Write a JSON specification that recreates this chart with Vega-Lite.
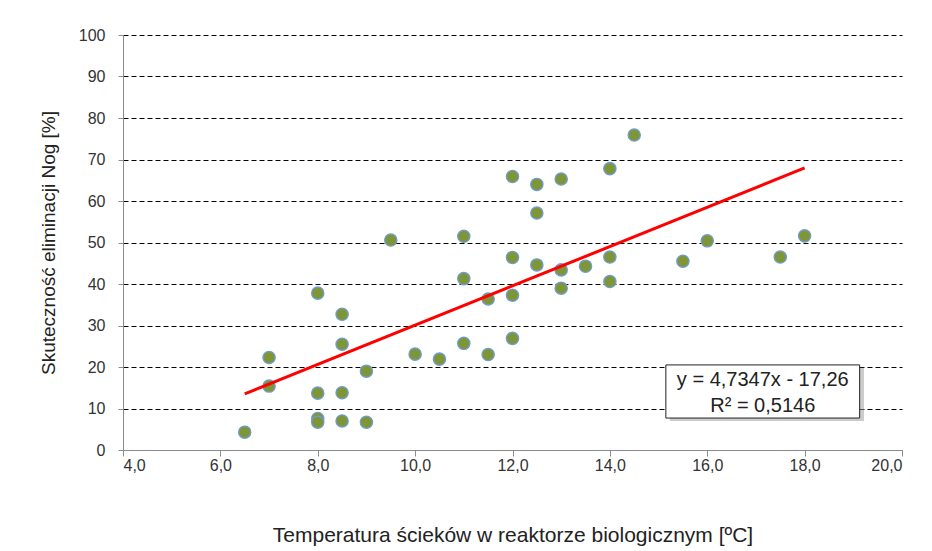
{
  "$schema": "https://vega.github.io/schema/vega-lite/v6.json",
  "width": 779,
  "height": 415,
  "autosize": {"type": "none"},
  "padding": {"left": 123, "top": 35, "right": 30, "bottom": 101},
  "background": "white",
  "config": {
    "font": "Liberation Sans",
    "view": {"stroke": null}
  },
  "datasets": {
    "pts": [
      {"t": 6.5, "e": 4.3}, {"t": 7.0, "e": 22.3}, {"t": 7.0, "e": 15.4},
      {"t": 8.0, "e": 37.8}, {"t": 8.0, "e": 13.7}, {"t": 8.0, "e": 7.6}, {"t": 8.0, "e": 6.7},
      {"t": 8.5, "e": 32.7}, {"t": 8.5, "e": 25.5}, {"t": 8.5, "e": 13.8}, {"t": 8.5, "e": 7.0},
      {"t": 9.0, "e": 19.0}, {"t": 9.0, "e": 6.7}, {"t": 9.5, "e": 50.6},
      {"t": 10.0, "e": 23.1}, {"t": 10.5, "e": 21.9},
      {"t": 11.0, "e": 51.5}, {"t": 11.0, "e": 41.3}, {"t": 11.0, "e": 25.7},
      {"t": 11.5, "e": 36.4}, {"t": 11.5, "e": 23.0},
      {"t": 12.0, "e": 65.9}, {"t": 12.0, "e": 46.4}, {"t": 12.0, "e": 37.3}, {"t": 12.0, "e": 26.9},
      {"t": 12.5, "e": 64.0}, {"t": 12.5, "e": 57.1}, {"t": 12.5, "e": 44.6},
      {"t": 13.0, "e": 65.3}, {"t": 13.0, "e": 43.4}, {"t": 13.0, "e": 39.0},
      {"t": 13.5, "e": 44.3},
      {"t": 14.0, "e": 67.8}, {"t": 14.0, "e": 46.5}, {"t": 14.0, "e": 40.6},
      {"t": 14.5, "e": 75.9}, {"t": 15.5, "e": 45.5}, {"t": 16.0, "e": 50.4},
      {"t": 17.5, "e": 46.5}, {"t": 18.0, "e": 51.6}
    ],
    "trend": [
      {"t": 6.5, "e": 13.52}, {"t": 18.0, "e": 67.96}
    ],
    "eq": [
      {"t": 17.14, "e": 16.9, "label": "y = 4,7347x - 17,26"},
      {"t": 17.14, "e": 10.6, "label": "R² = 0,5146"}
    ]
  },
  "layer": [
    {
      "data": {"name": "pts"},
      "mark": {"type": "point", "filled": true, "size": 150, "color": "#7f9637", "stroke": "#6f9bd1", "strokeWidth": 1.3, "opacity": 1},
      "encoding": {
        "x": {
          "field": "t", "type": "quantitative",
          "scale": {"domain": [4, 20], "nice": false, "zero": false},
          "axis": {
            "values": [4, 6, 8, 10, 12, 14, 16, 18, 20],
            "labelExpr": "replace(format(datum.value, '.1f'), '.', ',')",
            "grid": false,
            "domainColor": "#8c8c8c", "tickColor": "#8c8c8c", "tickSize": 6,
            "labelFontSize": 16, "labelColor": "#333333", "labelPadding": 1,
            "title": "Temperatura ścieków w reaktorze biologicznym [ºC]",
            "titleFontSize": 21, "titleFontWeight": "normal", "titleColor": "#222222",
            "titlePadding": 51
          }
        },
        "y": {
          "field": "e", "type": "quantitative",
          "scale": {"domain": [0, 100], "nice": false},
          "axis": {
            "values": [0, 10, 20, 30, 40, 50, 60, 70, 80, 90, 100],
            "grid": true, "gridColor": "#000000", "gridDash": [5, 3], "gridWidth": 1,
            "domainColor": "#8c8c8c", "tickColor": "#8c8c8c", "tickSize": 5,
            "labelFontSize": 16, "labelColor": "#333333", "labelPadding": 13,
            "title": "Skuteczność eliminacji Nog [%]",
            "titleFontSize": 19, "titleFontWeight": "normal", "titleColor": "#222222",
            "titlePadding": 20
          }
        }
      }
    },
    {
      "data": {"name": "trend"},
      "mark": {"type": "line", "color": "#ff0000", "strokeWidth": 3},
      "encoding": {
        "x": {"field": "t", "type": "quantitative"},
        "y": {"field": "e", "type": "quantitative"}
      }
    },
    {
      "data": {"values": [{}]},
      "mark": {"type": "rect", "fill": "#9a9a9a", "opacity": 0.5},
      "encoding": {
        "x": {"datum": 15.23}, "x2": {"datum": 19.22},
        "y": {"datum": 19.8}, "y2": {"datum": 7.0}
      }
    },
    {
      "data": {"values": [{}]},
      "mark": {"type": "rect", "fill": "white", "stroke": "#222222", "strokeWidth": 1},
      "encoding": {
        "x": {"datum": 15.15}, "x2": {"datum": 19.13},
        "y": {"datum": 20.5}, "y2": {"datum": 7.7}
      }
    },
    {
      "data": {"name": "eq"},
      "mark": {"type": "text", "fontSize": 20, "color": "#222222", "align": "center", "baseline": "middle"},
      "encoding": {
        "x": {"field": "t", "type": "quantitative"},
        "y": {"field": "e", "type": "quantitative"},
        "text": {"field": "label"}
      }
    }
  ]
}
